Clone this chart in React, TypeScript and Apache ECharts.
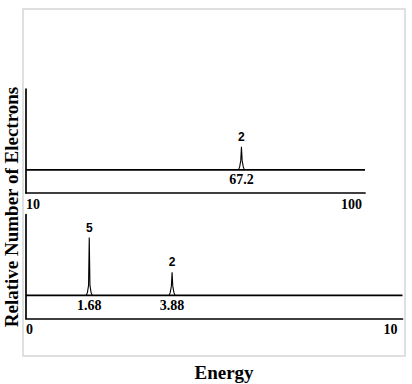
import React, { useEffect, useRef } from "react";
import * as echarts from "echarts";

// ---- data ----
const topRange = [10, 100];
const bottomRange = [0, 10];
const countRange = [-2, 7];
const topEnergies = [67.2];
const topCounts = [2];
const bottomEnergies = [1.68, 3.88];
const bottomCounts = [5, 2];
const yTitle = "Relative Number of Electrons";
const xTitle = "Energy";

const SERIF = "Liberation Serif";
const SANS = "Liberation Sans";

function renderPeak(params: any, api: any) {
  const e = api.value(0);
  const n = api.value(1);
  const [cx, b] = api.coord([e, 0]);
  const [, t] = api.coord([e, n]);
  const h = b - t;
  const mid = Math.min(10, h * 0.4);
  return {
    type: "group",
    children: [
      {
        type: "polyline",
        shape: {
          points: [
            [cx - 3, b],
            [cx - 1.8, b - 3],
            [cx - 0.7, b - mid],
            [cx, t],
            [cx + 0.7, b - mid],
            [cx + 1.8, b - 3],
            [cx + 3, b],
          ],
        },
        style: { stroke: "#000", lineWidth: 1.1, fill: "none" },
      },
      {
        type: "text",
        style: {
          text: String(n),
          x: cx,
          y: t - 10,
          align: "center",
          verticalAlign: "middle",
          fontFamily: SANS,
          fontWeight: "bold",
          fontSize: 12,
          fill: "#000",
        },
      },
      {
        type: "text",
        style: {
          text: String(e),
          x: cx,
          y: b + 10,
          align: "center",
          verticalAlign: "middle",
          fontFamily: SERIF,
          fontWeight: "bold",
          fontSize: 14,
          fill: "#000",
        },
      },
    ],
  };
}

const labelFont = { color: "#000", fontFamily: SERIF, fontWeight: "bold" as const, fontSize: 14 };

function xAxisFor(gridIndex: number, range: number[], interval: number, maxPad: number) {
  return {
    gridIndex,
    type: "value",
    min: range[0],
    max: range[1],
    interval,
    axisLine: { show: true, onZero: false, lineStyle: { color: "#000", width: 1.7 } },
    axisTick: { show: false },
    splitLine: { show: false },
    axisLabel: {
      show: true,
      margin: 4,
      ...labelFont,
      alignMinLabel: "left",
      alignMaxLabel: "right",
      formatter: (v: number) =>
        v === range[0] ? `{a|${v}}` : v === range[1] ? `{b|${v}}` : "",
      rich: {
        a: { ...labelFont, padding: [0, 0, 0, 0] },
        b: { ...labelFont, padding: [0, maxPad, 0, 0] },
      },
    },
  };
}

function yAxisFor(gridIndex: number) {
  return {
    gridIndex,
    type: "value",
    min: countRange[0],
    max: countRange[1],
    axisLine: { show: true, onZero: false, lineStyle: { color: "#000", width: 1.7 } },
    axisTick: { show: false },
    axisLabel: { show: false },
    splitLine: { show: false },
  };
}

export default function App() {
  const ref = useRef<HTMLDivElement>(null);
  useEffect(() => {
    document.body.style.margin = "0";
    const chart = echarts.init(ref.current!, null, { renderer: "svg" });
    chart.setOption({
      animation: false,
      backgroundColor: "#fff",
      grid: [
        { left: 26, top: 89, width: 339, height: 104 },
        { left: 26, top: 214.5, width: 376.5, height: 104 },
      ],
      xAxis: [xAxisFor(0, topRange, 10, 3), xAxisFor(1, bottomRange, 1, 5)],
      yAxis: [yAxisFor(0), yAxisFor(1)],
      graphic: [
        {
          type: "rect",
          shape: { x: 23, y: 9, width: 382, height: 347 },
          style: { fill: "none", stroke: "#d6d6d6", lineWidth: 1.5 },
          silent: true,
        },
        {
          type: "text",
          x: 11.5,
          y: 207,
          rotation: Math.PI / 2,
          style: {
            text: yTitle,
            align: "center",
            verticalAlign: "middle",
            fontFamily: SERIF,
            fontWeight: "bold",
            fontSize: 19,
            fill: "#000",
          },
        },
        {
          type: "text",
          x: 224,
          y: 372,
          style: {
            text: xTitle,
            align: "center",
            verticalAlign: "middle",
            fontFamily: SERIF,
            fontWeight: "bold",
            fontSize: 19,
            fill: "#000",
          },
        },
      ],
      series: [
        {
          type: "line",
          xAxisIndex: 0,
          yAxisIndex: 0,
          data: [
            [topRange[0], 0],
            [topRange[1], 0],
          ],
          symbol: "none",
          silent: true,
          lineStyle: { color: "#000", width: 1.7 },
        },
        {
          type: "custom",
          xAxisIndex: 0,
          yAxisIndex: 0,
          data: topEnergies.map((e, i) => [e, topCounts[i]]),
          renderItem: renderPeak,
          silent: true,
        },
        {
          type: "line",
          xAxisIndex: 1,
          yAxisIndex: 1,
          data: [
            [bottomRange[0], 0],
            [bottomRange[1], 0],
          ],
          symbol: "none",
          silent: true,
          lineStyle: { color: "#000", width: 1.7 },
        },
        {
          type: "custom",
          xAxisIndex: 1,
          yAxisIndex: 1,
          data: bottomEnergies.map((e, i) => [e, bottomCounts[i]]),
          renderItem: renderPeak,
          silent: true,
        },
      ],
    });
    return () => chart.dispose();
  }, []);
  return (
    <div
      ref={ref}
      style={{ position: "fixed", left: 0, top: 0, width: 412, height: 384, background: "#fff" }}
    />
  );
}
